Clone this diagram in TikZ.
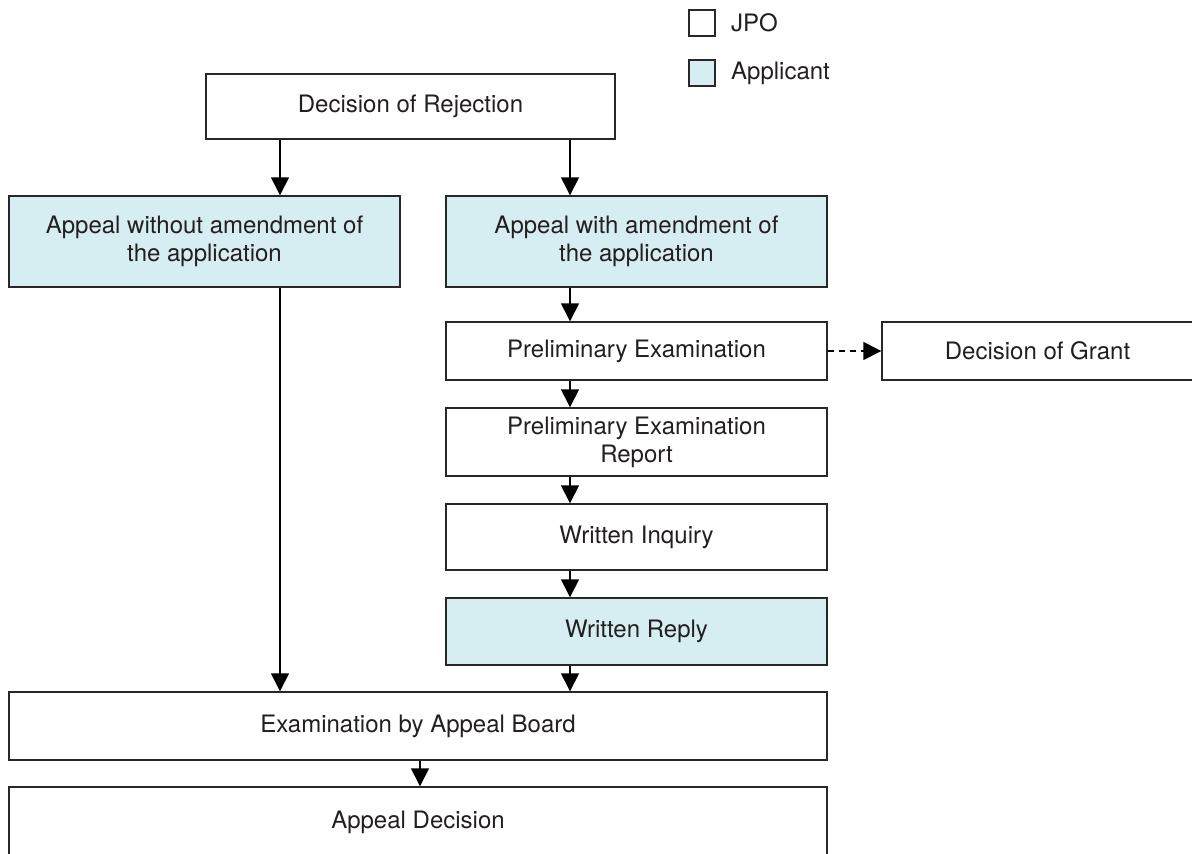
\documentclass[tikz,border=0pt]{standalone}
\usepackage{fontspec}
\setmainfont{TeX Gyre Heros}
\usetikzlibrary{arrows.meta}
\definecolor{appl}{RGB}{214,237,241}
\definecolor{edge}{RGB}{40,40,40}
\definecolor{txt}{RGB}{35,31,32}
\begin{document}
\begin{tikzpicture}[x=1pt,y=-1pt,
  box/.style={draw=edge,line width=1.4pt,fill=white,inner sep=0pt,align=center,
    text=txt,font=\fontsize{24}{28}\selectfont},
  appbox/.style={box,fill=appl},
  arr/.style={line width=1.4pt,draw=black,-{Triangle[length=18pt,width=18pt]}},
  darr/.style={arr,dash pattern=on 6pt off 5pt},
  leg/.style={draw=edge,line width=1.2pt,minimum size=26pt,inner sep=0pt},
  legtxt/.style={anchor=west,text=txt,font=\fontsize{24}{28}\selectfont,inner sep=0pt}]
\useasboundingbox (0,0) rectangle (1192,854);
% legend
\node[leg] (ljpo) at (702,23) {};
\node[legtxt] (tjpo) at (731,23) {JPO};
\node[leg,fill=appl] (lapp) at (702,73) {};
\node[legtxt] (tapp) at (731,73) {Applicant};
% boxes
\node[box,minimum width=409pt,minimum height=65pt] (rej) at (410.5,106.5) {Decision of Rejection};
\node[appbox,minimum width=391pt,minimum height=91pt] (wo) at (204.5,241.5) {Appeal without amendment of\\the application};
\node[appbox,minimum width=381pt,minimum height=91pt] (wi) at (636.5,241.5) {Appeal with amendment of\\the application};
\node[box,minimum width=381pt,minimum height=58pt] (pre) at (636.5,351) {Preliminary Examination};
\node[box,minimum width=311pt,minimum height=58pt] (grant) at (1037.5,351) {Decision of Grant};
\node[box,minimum width=381pt,minimum height=68pt] (rep) at (636.5,442) {Preliminary Examination\\Report};
\node[box,minimum width=381pt,minimum height=66pt] (inq) at (636.5,537) {Written Inquiry};
\node[appbox,minimum width=381pt,minimum height=67pt] (reply) at (636.5,631.5) {Written Reply};
\node[box,minimum width=818pt,minimum height=68pt] (exam) at (418,726) {Examination by Appeal Board};
\node[box,minimum width=818pt,minimum height=70pt] (dec) at (418,822) {Appeal Decision};
% connectors
\draw[arr] (rej.south -| 280,0) -- (wo.north -| 280,0);
\draw[arr] (rej.south -| 570,0) -- (wi.north -| 570,0);
\draw[arr] (wo.south -| 280,0) -- (exam.north -| 280,0);
\draw[arr] (wi.south -| 570,0) -- (pre.north -| 570,0);
\draw[arr] (pre.south -| 570,0) -- (rep.north -| 570,0);
\draw[arr] (rep.south -| 570,0) -- (inq.north -| 570,0);
\draw[arr] (inq.south -| 570,0) -- (reply.north -| 570,0);
\draw[arr] (reply.south -| 570,0) -- (exam.north -| 570,0);
\draw[arr] (exam.south -| 420,0) -- (dec.north -| 420,0);
\draw[darr] (pre.east) -- (grant.west);
\end{tikzpicture}
\end{document}
